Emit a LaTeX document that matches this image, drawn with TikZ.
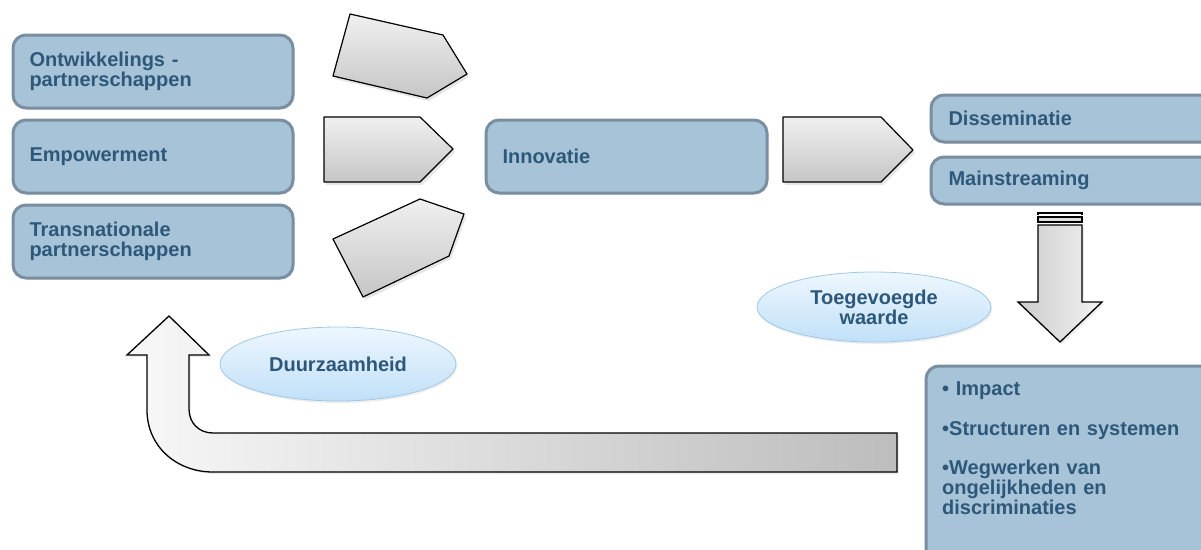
\documentclass[tikz,border=0pt]{standalone}
\usepackage{fontspec}
\setmainfont{Liberation Sans}
\usetikzlibrary{shadows,shapes.geometric}
\definecolor{boxfill}{RGB}{167,195,216}
\definecolor{boxline}{RGB}{122,142,160}
\definecolor{boxtext}{RGB}{46,88,122}
\definecolor{elltop}{RGB}{238,247,254}
\definecolor{ellbot}{RGB}{192,224,248}
\definecolor{elline}{RGB}{160,200,230}
\newcommand\myfs{\fontsize{20}{20}\selectfont\bfseries}
\tikzset{
  box/.style={draw=boxline, line width=3pt, fill=boxfill, rounded corners=13pt,
    anchor=north west, inner ysep=0pt, align=left, font=\myfs, text=boxtext,
    drop shadow={opacity=0.18, shadow xshift=1.5pt, shadow yshift=-1.5pt}},
  ell/.style={ellipse, draw=elline, line width=0.8pt, top color=elltop, bottom color=ellbot,
    font=\myfs, text=boxtext, align=center, inner sep=0pt,
    drop shadow={opacity=0.15, shadow xshift=1pt, shadow yshift=-2pt}},
  penta/.style={draw=black, line width=1.2pt, line join=round, top color=gray!12, bottom color=gray!45,
    drop shadow={opacity=0.2, shadow xshift=2pt, shadow yshift=-3pt}},
  bigarrow/.style={draw=black, line width=1.3pt, line join=miter,
    drop shadow={opacity=0.15, shadow xshift=2pt, shadow yshift=-2pt}},
}
\begin{document}
\begin{tikzpicture}[x=1pt,y=-1pt]
\useasboundingbox (0,0) rectangle (1201,549);
\clip (0,0) rectangle (1201,549);

% left boxes
\node[box, minimum height=73pt, text width=247pt, inner xsep=16.5pt] (ontw) at (11.5,33.5) {Ontwikkelings -\\partnerschappen};
\node[box, minimum height=73pt, text width=247pt, inner xsep=16.5pt] (emp) at (11.5,118.5) {Empowerment};
\node[box, minimum height=73pt, text width=247pt, inner xsep=16.5pt] (trans) at (11.5,203.5) {Transnationale\\partnerschappen};

% innovatie
\node[box, minimum height=73pt, text width=248pt, inner xsep=16.5pt] (innov) at (484.5,118.5) {Innovatie};

% right boxes
\node[box, minimum height=47pt, text width=265pt, inner xsep=17.5pt] (diss) at (929.5,93.5) {Disseminatie};
\node[box, minimum height=47pt, text width=265pt, inner xsep=17.5pt] (mains) at (929.5,155.5) {Mainstreaming};
\node[box, minimum height=200pt, minimum width=300pt] (imp) at (924.5,364.5) {};
\node[anchor=north west, inner sep=0pt, align=left, font=\myfs, text=boxtext, text width=260pt] (imptext) at (942,382)
  {• Impact\\[20pt]•Structuren en systemen\\[19pt]•Wegwerken van\\ongelijkheden en\\discriminaties};

% pentagon arrows
\path[penta] (350,14) -- (443,35) -- (467,74) -- (427,98) -- (333,76) -- cycle;
\path[penta] (324,117) -- (420,117) -- (453,149) -- (420,182) -- (324,182) -- cycle;
\path[penta] (333,239) -- (420,199) -- (464,214) -- (449,256) -- (363,297) -- cycle;
\path[penta] (783,117) -- (881,117) -- (913,150) -- (881,182) -- (783,182) -- cycle;

% down arrow
\draw[line width=1.3pt] (1038,215) -- (1038,213) -- (1082,213) -- (1082,215);
\draw[line width=1.3pt, fill=gray!25] (1038,217) rectangle (1082,222);
\path[bigarrow, left color=gray!40, right color=gray!10]
  (1038,225) -- (1082,225) -- (1082,302) -- (1102,302) -- (1060,342) -- (1018,302) -- (1038,302) -- cycle;

% U-shaped return arrow
\path[bigarrow, left color=gray!6, right color=gray!52]
  (169,316) -- (209,355) -- (189,355) -- (189,409)
  .. controls (189,423) and (199,433) .. (213,433)
  -- (897,433) -- (897,472) -- (213,472)
  .. controls (176,472) and (147,446) .. (147,410)
  -- (147,355) -- (127,355) -- cycle;

% ellipses
\node[ell, minimum width=236pt, minimum height=74pt] (duur) at (338,364) {Duurzaamheid};
\node[ell, minimum width=234pt, minimum height=70pt] (toeg) at (874,307) {Toegevoegde\\waarde};
\end{tikzpicture}
\end{document}
